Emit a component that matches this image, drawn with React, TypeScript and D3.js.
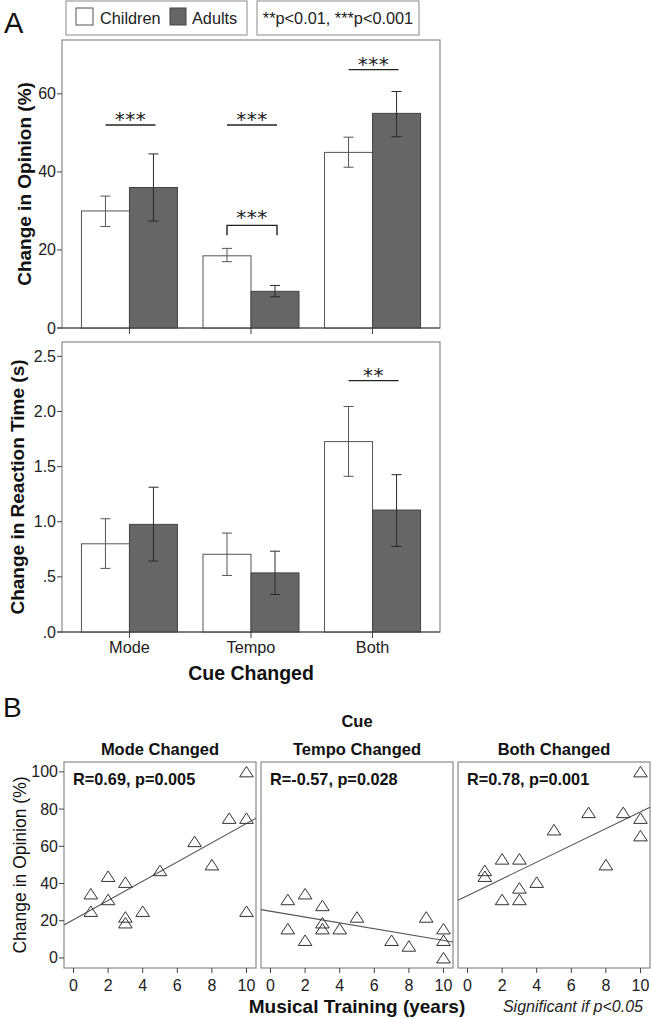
import React from 'react';
import * as d3 from 'd3';

// ---------- Panel A data ----------
const cues = ['Mode', 'Tempo', 'Both'];
const groups = ['Children', 'Adults'];

const opinionChildren = [30, 18.5, 45];
const opinionChildrenLow = [26, 17, 41.2];
const opinionChildrenHigh = [33.8, 20.4, 48.9];
const opinionAdults = [36, 9.4, 55];
const opinionAdultsLow = [27.4, 8, 49];
const opinionAdultsHigh = [44.6, 10.9, 60.6];

const rtChildren = [0.8, 0.705, 1.727];
const rtChildrenLow = [0.577, 0.513, 1.412];
const rtChildrenHigh = [1.027, 0.897, 2.045];
const rtAdults = [0.976, 0.536, 1.106];
const rtAdultsLow = [0.643, 0.34, 0.776];
const rtAdultsHigh = [1.313, 0.733, 1.427];

const opinionTicks = [0, 20, 40, 60];
const rtTicks = [0, 0.5, 1, 1.5, 2, 2.5];
const rtTickLabels = ['.0', '.5', '1.0', '1.5', '2.0', '2.5'];

const opinionSig = [
  { cue: 'Mode', level: 52, label: '***', kind: 'line' },
  { cue: 'Tempo', level: 52, label: '***', kind: 'line' },
  { cue: 'Tempo', level: 26.3, label: '***', kind: 'bracket' },
  { cue: 'Both', level: 66.2, label: '***', kind: 'line' },
];
const rtSig = [{ cue: 'Both', level: 2.28, label: '**', kind: 'line' }];

// ---------- Panel B data ----------
const scatterPanels = ['Mode Changed', 'Tempo Changed', 'Both Changed'];
const trainingYears = [1, 1, 2, 2, 3, 3, 3, 4, 5, 7, 8, 9, 10, 10, 10];
const modeOpinion = [34.4, 25, 43.8, 31.3, 40.6, 21.9, 18.8, 25, 46.9, 62.5, 50, 75, 100, 75, 25];
const tempoOpinion = [31.3, 15.6, 34.4, 9.4, 28.1, 18.8, 15.6, 15.6, 21.9, 9.4, 6.3, 21.9, 15.6, 9.4, 0];
const bothOpinion = [46.9, 43.8, 53.1, 31.3, 53.1, 37.5, 31.3, 40.6, 68.8, 78.1, 50, 78.1, 100, 75, 65.6];
const fitIntercepts = [20.6, 25.1, 33.5];
const fitSlopes = [5.17, -1.57, 4.5];
const correlationLabels = ['R=0.69, p=0.005', 'R=-0.57, p=0.028', 'R=0.78, p=0.001'];
const scatterYTicks = [0, 20, 40, 60, 80, 100];
const scatterXTicks = [0, 2, 4, 6, 8, 10];

const FONT = '"Liberation Sans", Arial, Helvetica, sans-serif';
const FRAME = '#8a8a8a';
const AXIS = '#444';
const DARK = '#666666';

type BarSet = {
  children: number[]; cLow: number[]; cHigh: number[];
  adults: number[]; aLow: number[]; aHigh: number[];
};

function BarPanel(props: {
  top: number; bottom: number; left: number; right: number; max: number;
  data: BarSet; ticks: number[]; tickLabels: string[];
  sig: { cue: string; level: number; label: string; kind: string }[];
}) {
  const { top, bottom, left, right, max, data, ticks, tickLabels, sig } = props;
  const x = d3.scaleBand<string>().domain(cues).range([left, right]).paddingInner(0.21).paddingOuter(0.16);
  const xg = d3.scaleBand<string>().domain(groups).range([0, x.bandwidth()]);
  const y = d3.scaleLinear().domain([0, max]).range([bottom, top]);
  const center = (c: string) => (x(c) as number) + x.bandwidth() / 2;
  const series = [
    { g: 'Children', v: data.children, lo: data.cLow, hi: data.cHigh, fill: '#ffffff', stroke: '#555', err: '#555' },
    { g: 'Adults', v: data.adults, lo: data.aLow, hi: data.aHigh, fill: DARK, stroke: '#444', err: '#2a2a2a' },
  ];
  return (
    <g>
      <rect x={left} y={top} width={right - left} height={bottom - top} fill="none" stroke={FRAME} strokeWidth={1.2} />
      {series.map((s) =>
        cues.map((c, i) => {
          const bx = (x(c) as number) + (xg(s.g) as number);
          const bw = xg.bandwidth();
          const cx = bx + bw / 2;
          return (
            <g key={s.g + c}>
              <rect x={bx} y={y(s.v[i])} width={bw} height={y(0) - y(s.v[i])} fill={s.fill} stroke={s.stroke} strokeWidth={1} />
              <line x1={cx} x2={cx} y1={y(s.lo[i])} y2={y(s.hi[i])} stroke={s.err} strokeWidth={1} />
              <line x1={cx - 5} x2={cx + 5} y1={y(s.lo[i])} y2={y(s.lo[i])} stroke={s.err} strokeWidth={1} />
              <line x1={cx - 5} x2={cx + 5} y1={y(s.hi[i])} y2={y(s.hi[i])} stroke={s.err} strokeWidth={1} />
            </g>
          );
        })
      )}
      <line x1={left - 5} x2={right} y1={y(0)} y2={y(0)} stroke={AXIS} strokeWidth={1.2} />
      {cues.map((c) => (
        <line key={c} x1={center(c)} x2={center(c)} y1={y(0)} y2={y(0) + 6} stroke={AXIS} strokeWidth={1} />
      ))}
      {ticks.map((t, i) => (
        <g key={t}>
          <line x1={left - 5} x2={left} y1={y(t)} y2={y(t)} stroke={AXIS} strokeWidth={1} />
          <text x={left - 6} y={y(t) + 5.5} textAnchor="end" fontSize={16} fill="#222">{tickLabels[i]}</text>
        </g>
      ))}
      {sig.map((s, i) => {
        const cx = center(s.cue) + 1;
        const ly = y(s.level);
        return (
          <g key={i}>
            {s.kind === 'line' ? (
              <line x1={cx - 25} x2={cx + 25} y1={ly} y2={ly} stroke="#222" strokeWidth={1.4} />
            ) : (
              <path d={`M${cx - 25},${ly + 10}V${ly}H${cx + 25}V${ly + 10}`} fill="none" stroke="#222" strokeWidth={1.4} />
            )}
            <text x={cx} y={s.kind === 'line' ? ly + 1 : ly - 1} textAnchor="middle" fontSize={20}
              fontFamily='"DejaVu Sans", sans-serif' letterSpacing={0.5} fill="#222">{s.label}</text>
          </g>
        );
      })}
    </g>
  );
}

function Scatter(props: { idx: number; left: number; values: number[] }) {
  const { idx, left, values } = props;
  const top = 762, bottom = 968, w = 192;
  const x = d3.scaleLinear().domain([-0.55, 10.55]).range([left, left + w]);
  const y = d3.scaleLinear().domain([-5.4, 105.3]).range([bottom, top]);
  const tri = 'M0,-5.5L6.8,5L-6.8,5Z';
  const x0 = x.domain()[0], x1 = x.domain()[1];
  const a = fitIntercepts[idx], b = fitSlopes[idx];
  return (
    <g>
      <text x={left + w / 2} y={755} textAnchor="middle" fontSize={16.5} fontWeight="bold" fill="#111">{scatterPanels[idx]}</text>
      <rect x={left} y={top} width={w} height={bottom - top} fill="none" stroke={FRAME} strokeWidth={1.2} />
      <line x1={x(x0)} x2={x(x1)} y1={y(a + b * x0)} y2={y(a + b * x1)} stroke="#555" strokeWidth={1.1} />
      {values.map((v, i) => (
        <path key={i} d={tri} transform={`translate(${x(trainingYears[i])},${y(v)})`} fill="none" stroke="#333" strokeWidth={1} />
      ))}
      <text x={left + 9} y={785} fontSize={16.3} fontWeight="bold" fill="#111">{correlationLabels[idx]}</text>
      {scatterXTicks.map((t) => (
        <g key={t}>
          <line x1={x(t)} x2={x(t)} y1={bottom} y2={bottom + 5} stroke={AXIS} strokeWidth={1} />
          <text x={x(t)} y={991} textAnchor="middle" fontSize={16} fill="#222">{t}</text>
        </g>
      ))}
      {idx === 0 &&
        scatterYTicks.map((t) => (
          <g key={t}>
            <line x1={left - 5} x2={left} y1={y(t)} y2={y(t)} stroke={AXIS} strokeWidth={1} />
            <text x={left - 6} y={y(t) + 5.5} textAnchor="end" fontSize={16} fill="#222">{t}</text>
          </g>
        ))}
    </g>
  );
}

export default function App() {
  const opinion: BarSet = {
    children: opinionChildren, cLow: opinionChildrenLow, cHigh: opinionChildrenHigh,
    adults: opinionAdults, aLow: opinionAdultsLow, aHigh: opinionAdultsHigh,
  };
  const rt: BarSet = {
    children: rtChildren, cLow: rtChildrenLow, cHigh: rtChildrenHigh,
    adults: rtAdults, aLow: rtAdultsLow, aHigh: rtAdultsHigh,
  };
  const xCue = d3.scaleBand<string>().domain(cues).range([62, 440]).paddingInner(0.21).paddingOuter(0.16);
  const scatterLefts = [64, 261, 458];
  const scatterValues = [modeOpinion, tempoOpinion, bothOpinion];
  return (
    <svg width={651} height={1019} style={{ position: 'absolute', left: 0, top: 0, background: '#fff' }} fontFamily={FONT}>
      <rect x={0} y={0} width={651} height={1019} fill="#fff" />
      <text x={4} y={33} fontSize={29} fill="#111">A</text>
      <rect x={66} y={1} width={181} height={34} fill="#fff" stroke={FRAME} strokeWidth={1} />
      <rect x={76} y={8} width={17} height={17} fill="#fff" stroke="#555" strokeWidth={1} />
      <text x={100} y={24} fontSize={16.3} fill="#222">{groups[0]}</text>
      <rect x={170} y={8} width={16} height={17} fill={DARK} stroke="#444" strokeWidth={1} />
      <text x={192} y={24} fontSize={16.3} fill="#222">{groups[1]}</text>
      <rect x={257} y={1} width={162} height={34} fill="#fff" stroke={FRAME} strokeWidth={1} />
      <text x={338} y={24} textAnchor="middle" fontSize={16.3} fill="#222">**p&lt;0.01, ***p&lt;0.001</text>

      <BarPanel top={40} bottom={328} left={62} right={440} max={73.8} data={opinion}
        ticks={opinionTicks} tickLabels={opinionTicks.map(String)} sig={opinionSig} />
      <BarPanel top={342} bottom={632} left={62} right={440} max={2.63} data={rt}
        ticks={rtTicks} tickLabels={rtTickLabels} sig={rtSig} />

      <text transform="translate(31,184) rotate(-90)" textAnchor="middle" fontSize={19} fontWeight="bold" fill="#111">Change in Opinion (%)</text>
      <text transform="translate(24,487) rotate(-90)" textAnchor="middle" fontSize={19} fontWeight="bold" fill="#111">Change in Reaction Time (s)</text>

      {cues.map((c) => (
        <text key={c} x={(xCue(c) as number) + xCue.bandwidth() / 2} y={653} textAnchor="middle" fontSize={16.3} fill="#222">{c}</text>
      ))}
      <text x={251} y={680} textAnchor="middle" fontSize={19.5} fontWeight="bold" fill="#111">Cue Changed</text>

      <text x={3} y={717} fontSize={28} fill="#111">B</text>
      <text x={357} y={727} textAnchor="middle" fontSize={16.5} fontWeight="bold" fill="#111">Cue</text>
      {scatterLefts.map((l, i) => (
        <Scatter key={i} idx={i} left={l} values={scatterValues[i]} />
      ))}
      <text transform="translate(26,865) rotate(-90)" textAnchor="middle" fontSize={17.5} fill="#111">Change in Opinion (%)</text>
      <text x={357} y={1013} textAnchor="middle" fontSize={19} fontWeight="bold" fill="#111">Musical Training (years)</text>
      <text x={643} y={1012} textAnchor="end" fontSize={16} fontStyle="italic" fill="#222">Significant if p&lt;0.05</text>
    </svg>
  );
}
